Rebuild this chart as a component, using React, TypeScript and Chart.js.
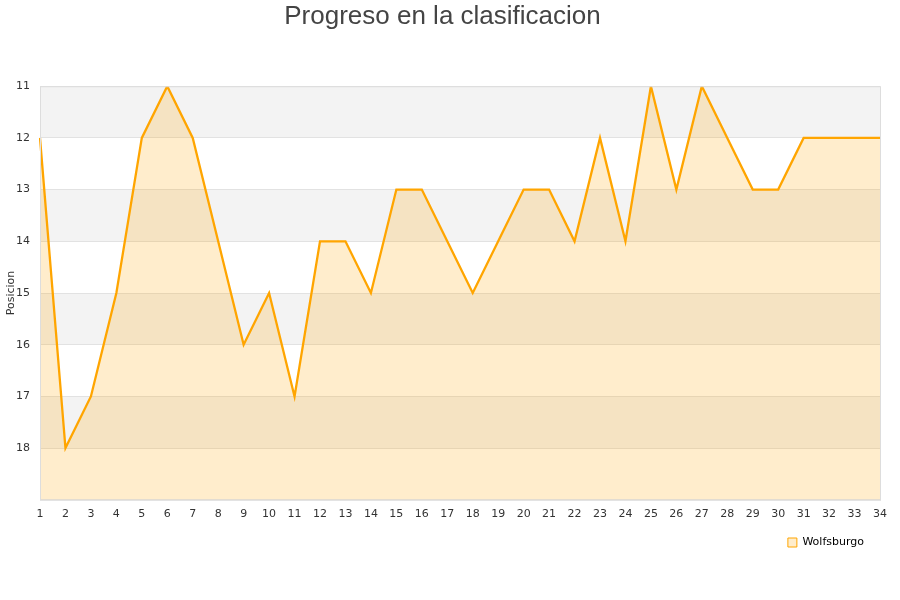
import { useRef, useEffect } from 'react';
import Chart from 'chart.js/auto';

const jornadas = Array.from({ length: 34 }, (_, i) => String(i + 1));
const posiciones = [
  12, 18, 17, 15, 12, 11, 12, 14, 16, 15, 17, 14, 14, 15, 13, 13, 14,
  15, 14, 13, 13, 14, 12, 14, 11, 13, 11, 12, 13, 13, 12, 12, 12, 12,
];
const equipo = 'Wolfsburgo';

// alternating horizontal bands + frame around the plot area
const bandsPlugin = {
  id: 'bands',
  beforeDraw(chart: Chart) {
    const { ctx, chartArea, scales } = chart;
    const y = scales.y;
    ctx.save();
    for (let v = 11; v < 19; v++) {
      const top = y.getPixelForValue(v);
      const bottom = y.getPixelForValue(v + 1);
      ctx.fillStyle = (v - 11) % 2 === 0 ? '#f3f3f3' : '#ffffff';
      ctx.fillRect(chartArea.left, top, chartArea.right - chartArea.left, bottom - top);
    }
    ctx.restore();
  },
  afterDraw(chart: Chart) {
    const { ctx, chartArea } = chart;
    ctx.save();
    ctx.strokeStyle = '#dddddd';
    ctx.lineWidth = 1;
    ctx.strokeRect(chartArea.left + 0.5, chartArea.top + 0.5, chartArea.right - chartArea.left, chartArea.bottom - chartArea.top);
    ctx.restore();
  },
};

const ClasificacionChart = () => {
  const chartRef = useRef<HTMLCanvasElement | null>(null);
  const chartInstance = useRef<Chart | null>(null);

  useEffect(() => {
    if (!chartRef.current) return;
    if (chartInstance.current) chartInstance.current.destroy();

    chartInstance.current = new Chart(chartRef.current, {
      type: 'line',
      data: {
        labels: jornadas,
        datasets: [
          {
            label: equipo,
            data: posiciones,
            borderColor: '#ffa500',
            backgroundColor: 'rgba(255, 165, 0, 0.2)',
            borderWidth: 2.3,
            pointRadius: 0,
            tension: 0,
            fill: 'start',
          },
        ],
      },
      plugins: [bandsPlugin],
      options: {
        animation: false,
        responsive: true,
        maintainAspectRatio: false,
        layout: { padding: { left: 5, right: 20, top: 0, bottom: 42 } },
        scales: {
          x: {
            type: 'category',
            offset: false,
            grid: { display: false },
            border: { display: false },
            ticks: { color: '#333', font: { size: 11, family: 'DejaVu Sans' }, maxRotation: 0, autoSkip: false, padding: 0 },
          },
          y: {
            reverse: true,
            min: 11,
            max: 19,
            grid: { color: '#e2e2e2', drawTicks: false },
            border: { display: false },
            title: { display: true, text: 'Posicion', color: '#333', font: { size: 11, family: 'DejaVu Sans' }, padding: 0 },
            afterFit: (scale) => {
              scale.width = 35;
            },
            ticks: {
              stepSize: 1,
              color: '#333',
              padding: 10,
              font: { size: 11, family: 'DejaVu Sans' },
              callback: (v) => (Number(v) === 19 ? '' : String(v)),
            },
          },
        },
        plugins: {
          title: {
            display: true,
            text: 'Progreso en la clasificacion',
            color: '#444',
            font: { size: 26, family: 'Liberation Sans', weight: 'normal' },
            padding: { top: 1, bottom: 54 },
          },
          legend: {
            position: 'bottom',
            align: 'end',
            labels: {
              color: '#000',
              boxWidth: 9,
              boxHeight: 9,
              font: { size: 11, family: 'DejaVu Sans' },
              padding: 16,
              generateLabels: (chart) => [
                {
                  text: equipo,
                  fillStyle: 'rgba(255, 165, 0, 0.2)',
                  strokeStyle: '#ffa500',
                  lineWidth: 1,
                  fontColor: '#000',
                  datasetIndex: 0,
                  hidden: !chart.isDatasetVisible(0),
                },
              ],
            },
          },
          tooltip: { enabled: false },
        },
      },
    });

    return () => {
      if (chartInstance.current) {
        chartInstance.current.destroy();
        chartInstance.current = null;
      }
    };
  }, []);

  return <canvas ref={chartRef}></canvas>;
};

export default function App() {
  return (
    <div style={{ position: 'fixed', left: 0, top: 0, width: 900, height: 600, background: '#fff' }}>
      <ClasificacionChart />
    </div>
  );
}
